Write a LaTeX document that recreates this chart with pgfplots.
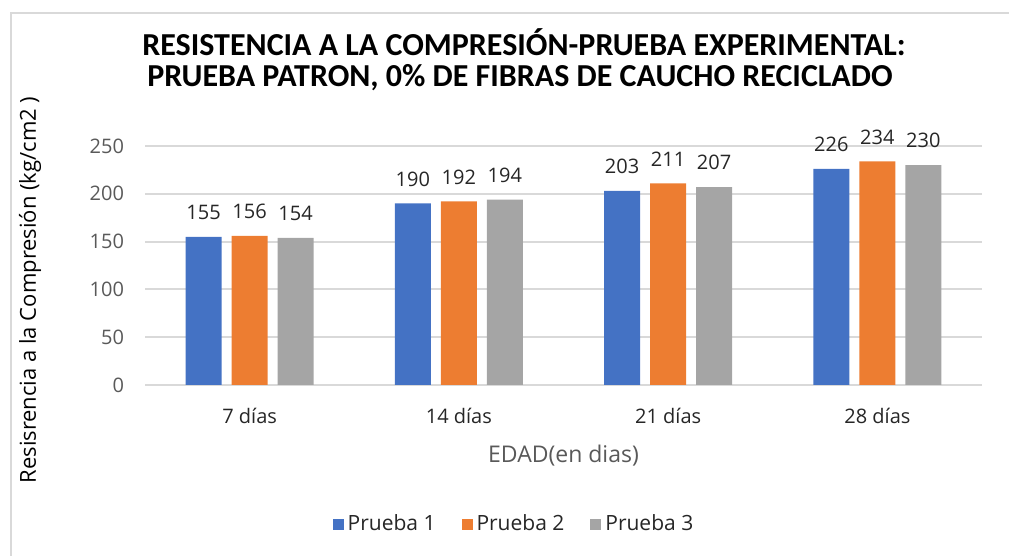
\documentclass[border=0pt]{standalone}
\usepackage{pgfplots}
\pgfplotsset{compat=1.18}
\usepackage{fontspec}
\setmainfont{Open Sans}
\newfontfamily\ttlfont{Carlito}
\definecolor{c1}{HTML}{4472C4}
\definecolor{c2}{HTML}{ED7D31}
\definecolor{c3}{HTML}{A5A5A5}
\definecolor{tk}{HTML}{595959}
\definecolor{dk}{HTML}{262626}
\definecolor{frm}{HTML}{D9D9D9}
\begin{document}
\begin{tikzpicture}[x=0.5bp,y=0.5bp]
\path[use as bounding box] (0,0) rectangle (1009,556);
\draw[frm, line width=1bp] (11,0) -- (11,543) -- (1009,543);
\node[font=\ttlfont\bfseries\fontsize{16bp}{18bp}\selectfont, text=black] at (524,514) {RESISTENCIA A LA COMPRESIÓN-PRUEBA EXPERIMENTAL:};
\node[font=\ttlfont\bfseries\fontsize{16bp}{18bp}\selectfont, text=black] at (520,478) {PRUEBA PATRON, 0\% DE FIBRAS DE CAUCHO RECICLADO};
\node[rotate=90, font=\fontsize{11bp}{13bp}\selectfont, text=black] at (30,266) {Resisrencia a la Compresión (kg/cm2 )};
\begin{axis}[
  at={(72.5bp,85.5bp)}, anchor=south west,
  scale only axis, width=418.5bp, height=119.5bp,
  xmin=-0.5, xmax=3.5, ymin=0, ymax=250,
  ybar=5bp, bar width=18bp,
  xtick={0,1,2,3}, xticklabels={7 días,14 días,21 días,28 días},
  ytick={0,50,100,150,200,250},
  /pgf/number format/assume math mode=true,
  major tick length=0pt,
  axis line style={draw=none},
  ymajorgrids, grid style={color=frm, line width=1bp},
  tick label style={font=\fontsize{10bp}{12bp}\selectfont},
  yticklabel style={text=tk, xshift=-7bp},
  xticklabel style={text=dk, yshift=-8bp},
  xlabel={EDAD(en dias)},
  xlabel style={text=tk, font=\fontsize{11.5bp}{13bp}\selectfont, yshift=-4bp},
  nodes near coords,
  every node near coord/.append style={font=\fontsize{10bp}{12bp}\selectfont, text=dk, yshift=5bp},
  legend columns=3,
  legend style={at={(0.442,-0.582)}, anchor=center, draw=none, font=\fontsize{10.5bp}{12bp}\selectfont, text=dk,
    /tikz/every even column/.append style={column sep=11bp}},
  legend image code/.code={\fill[#1] (0bp,-2.75bp) rectangle (5.5bp,2.75bp);},
]
\addplot[fill=c1, draw=none] coordinates {(0,155) (1,190) (2,203) (3,226)};
\addplot[fill=c2, draw=none] coordinates {(0,156) (1,192) (2,211) (3,234)};
\addplot[fill=c3, draw=none] coordinates {(0,154) (1,194) (2,207) (3,230)};
\legend{Prueba 1, Prueba 2, Prueba 3}
\end{axis}
\end{tikzpicture}
\end{document}
